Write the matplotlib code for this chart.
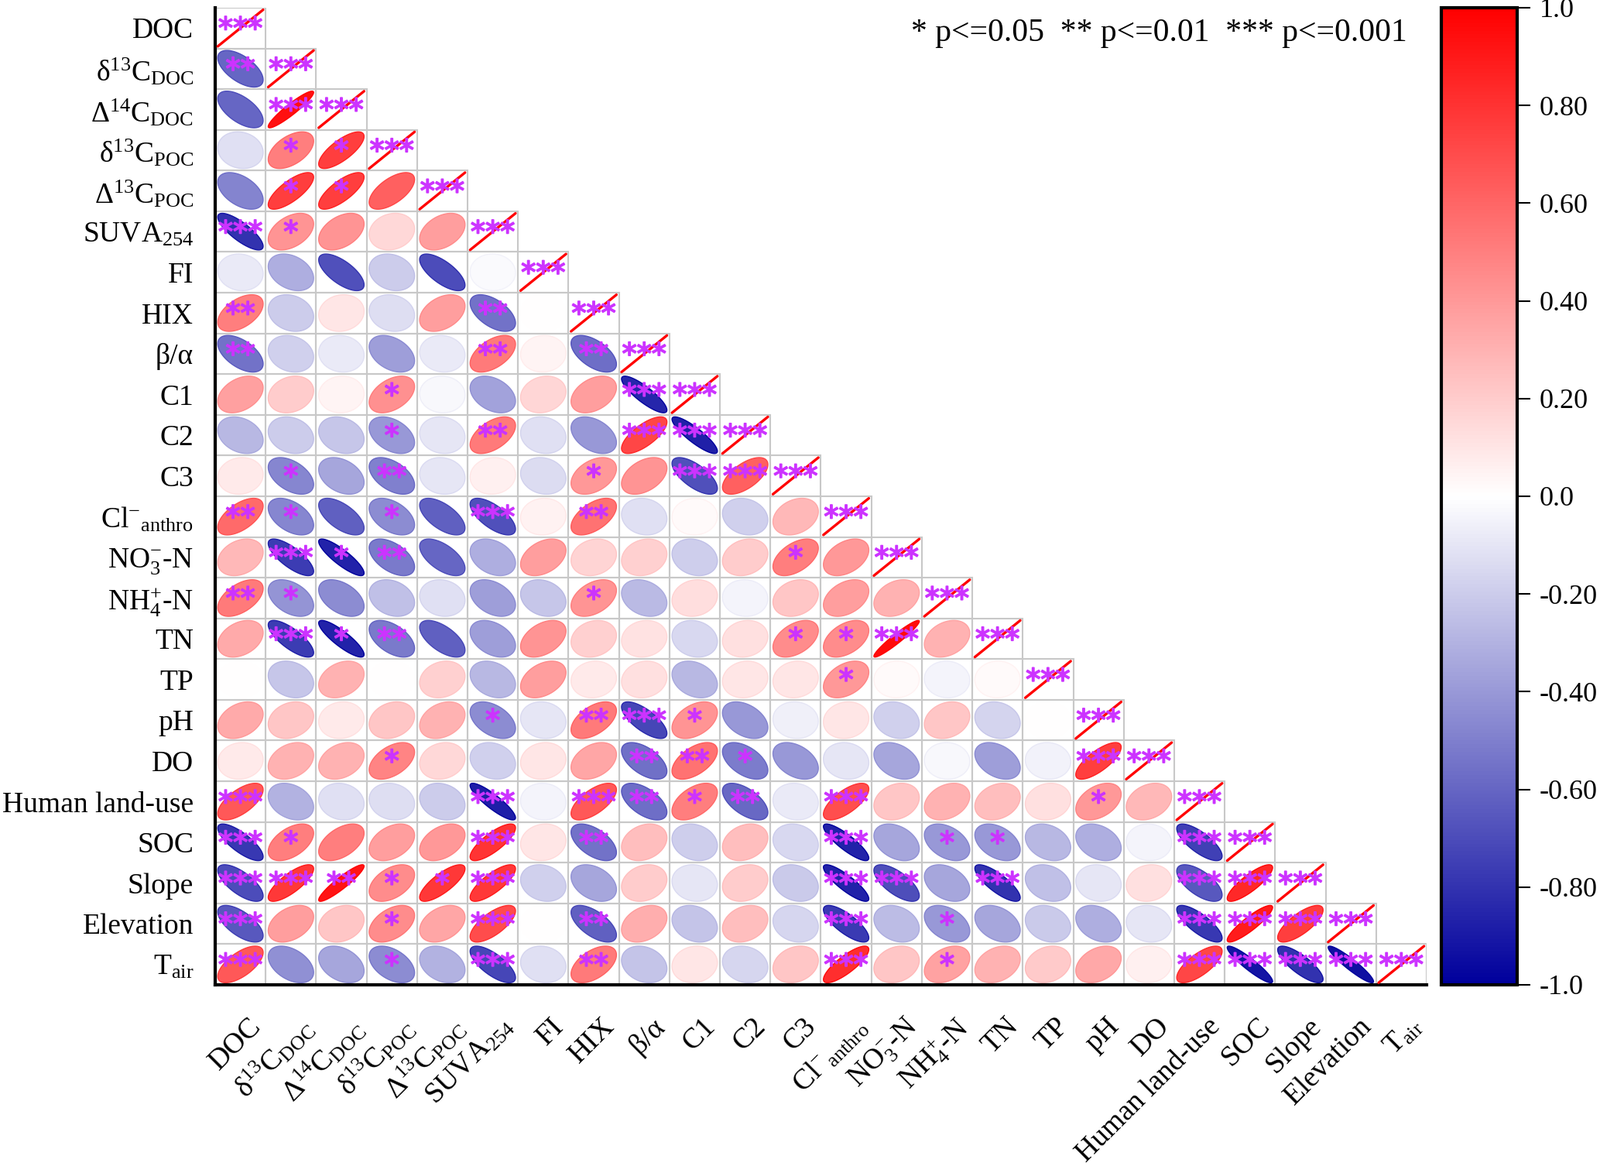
import numpy as np
import matplotlib
matplotlib.use('Agg')
import matplotlib.pyplot as plt
from matplotlib.patches import Polygon, Rectangle
from matplotlib.colors import LinearSegmentedColormap, Normalize
import matplotlib.colorbar as mcolorbar
import matplotlib.transforms as mtransforms
import matplotlib.patheffects as pe

plt.rcParams['font.family'] = ['Liberation Serif', 'DejaVu Serif']
plt.rcParams['mathtext.fontset'] = 'custom'
plt.rcParams['mathtext.rm'] = 'Liberation Serif'
plt.rcParams['mathtext.it'] = 'Liberation Serif:italic'
plt.rcParams['mathtext.bf'] = 'Liberation Serif:bold'

# ---------------- data ----------------
labels = ['DOC', 'δ$^{13}$C$_{\\mathrm{DOC}}$', 'Δ$^{14}$C$_{\\mathrm{DOC}}$',
          'δ$^{13}$C$_{\\mathrm{POC}}$', 'Δ$^{13}$C$_{\\mathrm{POC}}$', 'SUVA$_{254}$',
          'FI', 'HIX', 'β/α', 'C1', 'C2', 'C3', 'Cl$^{-}$$_{\\mathrm{anthro}}$',
          'NO$_{3}^{-}$-N', 'NH$_{4}^{+}$-N', 'TN', 'TP', 'pH', 'DO',
          'Human land-use', 'SOC', 'Slope', 'Elevation', 'T$_{\\mathrm{air}}$']

# lower-triangle correlation coefficients (row vs. previous columns)
r_d13c_doc = [-0.60]
r_d14c_doc = [-0.60, 0.93]
r_d13c_poc = [-0.12, 0.50, 0.75]
r_D13c_poc = [-0.48, 0.75, 0.75, 0.62]
r_suva = [-0.80, 0.42, 0.42, 0.15, 0.38]
r_fi = [-0.08, -0.32, -0.68, -0.20, -0.70, -0.02]
r_hix = [0.50, -0.20, 0.10, -0.13, 0.38, -0.55, 0.00]
r_ba = [-0.55, -0.18, -0.08, -0.38, -0.08, 0.52, 0.04, -0.57]
r_c1 = [0.37, 0.20, 0.04, 0.43, -0.03, -0.36, 0.16, 0.38, -0.85]
r_c2 = [-0.28, -0.20, -0.22, -0.40, -0.10, 0.52, -0.12, -0.40, 0.72, -0.87]
r_c3 = [0.08, -0.47, -0.35, -0.50, -0.10, 0.06, -0.14, 0.40, 0.42, -0.68, 0.62]
r_cl = [0.58, -0.47, -0.62, -0.45, -0.62, -0.68, 0.05, 0.55, -0.12, 0.02, -0.18, 0.28]
r_no3 = [0.28, -0.76, -0.86, -0.52, -0.60, -0.32, 0.38, 0.17, 0.18, -0.19, 0.20, 0.50, 0.40]
r_nh4 = [0.52, -0.42, -0.45, -0.25, -0.12, -0.38, -0.22, 0.42, -0.27, 0.13, -0.04, 0.22, 0.38, 0.30]
r_tn = [0.33, -0.76, -0.86, -0.52, -0.62, -0.38, 0.42, 0.18, 0.11, -0.15, 0.12, 0.45, 0.45, 0.95, 0.30]
r_tp = [0.00, -0.22, 0.30, 0.00, 0.18, -0.28, 0.38, 0.08, 0.12, -0.28, 0.10, 0.10, 0.40, 0.02, -0.04, 0.02]
r_ph = [0.33, 0.22, 0.08, 0.22, 0.30, -0.45, -0.10, 0.52, -0.72, 0.42, -0.40, -0.06, 0.10, -0.18, 0.22,
        -0.17, 0.00]
r_do = [0.08, 0.30, 0.30, 0.48, 0.15, -0.18, 0.10, 0.35, -0.56, 0.55, -0.51, -0.40, -0.10, -0.35, -0.03,
        -0.38, -0.05, 0.75]
r_hlu = [0.65, -0.30, -0.12, -0.13, -0.20, -0.88, -0.04, 0.65, -0.57, 0.50, -0.59, -0.08, 0.69, 0.22, 0.30,
         0.25, 0.12, 0.40, 0.28]
r_soc = [-0.78, 0.50, 0.50, 0.38, 0.40, 0.79, 0.10, -0.55, 0.25, -0.19, 0.25, -0.15, -0.86, -0.35, -0.40,
         -0.40, -0.28, -0.32, -0.04, -0.75]
r_slope = [-0.70, 0.78, 0.92, 0.45, 0.78, 0.78, -0.18, -0.35, 0.20, -0.10, 0.20, -0.21, -0.86, -0.69, -0.35,
           -0.80, -0.25, -0.10, 0.12, -0.65, 0.84]
r_elev = [-0.65, 0.38, 0.22, 0.45, 0.35, 0.70, 0.00, -0.62, 0.32, -0.23, 0.25, -0.16, -0.77, -0.26, -0.40,
          -0.35, -0.21, -0.32, -0.10, -0.78, 0.89, 0.75]
r_tair = [0.65, -0.43, -0.35, -0.45, -0.30, -0.72, -0.12, 0.52, -0.23, 0.10, -0.16, 0.22, 0.82, 0.22, 0.36,
          0.30, 0.21, 0.34, 0.06, 0.72, -0.92, -0.80, -0.93]

# number of significance stars for each lower-triangle cell
s_d13c_doc = [2]
s_d14c_doc = [0, 3]
s_d13c_poc = [0, 1, 1]
s_D13c_poc = [0, 1, 1, 0]
s_suva = [3, 1, 0, 0, 0]
s_fi = [0, 0, 0, 0, 0, 0]
s_hix = [2, 0, 0, 0, 0, 2, 0]
s_ba = [2, 0, 0, 0, 0, 2, 0, 2]
s_c1 = [0, 0, 0, 1, 0, 0, 0, 0, 3]
s_c2 = [0, 0, 0, 1, 0, 2, 0, 0, 3, 3]
s_c3 = [0, 1, 0, 2, 0, 0, 0, 1, 0, 3, 3]
s_cl = [2, 1, 0, 1, 0, 3, 0, 2, 0, 0, 0, 0]
s_no3 = [0, 3, 1, 2, 0, 0, 0, 0, 0, 0, 0, 1, 0]
s_nh4 = [2, 1, 0, 0, 0, 0, 0, 1, 0, 0, 0, 0, 0, 0]
s_tn = [0, 3, 1, 2, 0, 0, 0, 0, 0, 0, 0, 1, 1, 3, 0]
s_tp = [0, 0, 0, 0, 0, 0, 0, 0, 0, 0, 0, 0, 1, 0, 0, 0]
s_ph = [0, 0, 0, 0, 0, 1, 0, 2, 3, 1, 0, 0, 0, 0, 0, 0, 0]
s_do = [0, 0, 0, 1, 0, 0, 0, 0, 2, 2, 1, 0, 0, 0, 0, 0, 0, 3]
s_hlu = [3, 0, 0, 0, 0, 3, 0, 3, 2, 1, 2, 0, 3, 0, 0, 0, 0, 1, 0]
s_soc = [3, 1, 0, 0, 0, 3, 0, 2, 0, 0, 0, 0, 3, 0, 1, 1, 0, 0, 0, 3]
s_slope = [3, 3, 2, 1, 1, 3, 0, 0, 0, 0, 0, 0, 3, 3, 0, 3, 0, 0, 0, 3, 3]
s_elev = [3, 0, 0, 1, 0, 3, 0, 2, 0, 0, 0, 0, 3, 0, 1, 0, 0, 0, 0, 3, 3, 3]
s_tair = [3, 0, 0, 1, 0, 3, 0, 2, 0, 0, 0, 0, 3, 0, 1, 0, 0, 0, 0, 3, 3, 3, 3]

r_rows = [[], r_d13c_doc, r_d14c_doc, r_d13c_poc, r_D13c_poc, r_suva, r_fi, r_hix, r_ba, r_c1, r_c2, r_c3,
          r_cl, r_no3, r_nh4, r_tn, r_tp, r_ph, r_do, r_hlu, r_soc, r_slope, r_elev, r_tair]
s_rows = [[], s_d13c_doc, s_d14c_doc, s_d13c_poc, s_D13c_poc, s_suva, s_fi, s_hix, s_ba, s_c1, s_c2, s_c3,
          s_cl, s_no3, s_nh4, s_tn, s_tp, s_ph, s_do, s_hlu, s_soc, s_slope, s_elev, s_tair]

cbar_ticks = [-1.0, -0.8, -0.6, -0.4, -0.2, 0.0, 0.2, 0.4, 0.6, 0.8, 1.0]
cbar_labels = ['-1.0', '-0.80', '-0.60', '-0.40', '-0.20', '0.0', '0.20', '0.40', '0.60', '0.80', '1.0']
legend_text = '* p<=0.05  ** p<=0.01  *** p<=0.001'

n = len(labels)
M = np.full((n, n), np.nan)
S = np.zeros((n, n), dtype=int)
for i in range(n):
    for j, v in enumerate(r_rows[i]):
        M[i, j] = v
        S[i, j] = s_rows[i][j]
    M[i, i] = 1.0
    S[i, i] = 3

# ---------------- figure ----------------
cmap = LinearSegmentedColormap.from_list('bwr_c', [(0.0, '#00009C'), (0.5, '#FFFFFF'), (1.0, '#FF0000')], N=256)
norm = Normalize(-1, 1)

fig = plt.figure(figsize=(20.67, 15.06), dpi=100)
ax = fig.add_axes([0.1345, 0.1554, 0.7571, 0.838])
ax.set_xlim(0, n)
ax.set_ylim(n, 0)

t = np.linspace(0, 2 * np.pi, 240)
s = 0.45
star_color = '#CC33FF'
star_fx = [pe.Stroke(linewidth=1.3, foreground=star_color), pe.Normal()]
for i in range(n):
    for j in range(i + 1):
        ax.add_patch(Rectangle((j, i), 1, 1, fill=False, ec='#C8C8C8', lw=1.5, zorder=1))
        r = M[i, j]
        d = np.arccos(np.clip(r, -1, 1))
        xs = j + 0.5 + s * np.cos(t + d / 2)
        ys = i + 0.5 - s * np.cos(t - d / 2)
        fc = cmap(norm(r))
        if i == j:
            ax.plot([j + 0.5 - s, j + 0.5 + s], [i + 0.5 + s, i + 0.5 - s], color='#FF0000', lw=2.4,
                    solid_capstyle='round', zorder=3)
        else:
            strong = np.sign(r) * min(1.0, abs(r) * 1.12 + 0.03)
            ec = cmap(norm(strong))
            ax.add_patch(Polygon(np.column_stack([xs, ys]), closed=True, fc=fc, ec=ec, lw=1.0, zorder=2))
        if S[i, j] > 0:
            ax.text(j + 0.5, i + 0.75, '*' * S[i, j], ha='center', va='baseline', fontsize=27.5,
                    family='DejaVu Sans', color=star_color, zorder=4, path_effects=star_fx)

ax.set_xticks(np.arange(n) + 0.5)
ax.set_yticks(np.arange(n) + 0.5)
ax.set_xticklabels(labels, rotation=45, ha='right', va='top', rotation_mode='anchor', fontsize=27)
ax.set_yticklabels(labels, fontsize=27)
ax.tick_params(axis='x', length=0, pad=26)
ax.tick_params(axis='y', length=0, pad=20)
shift = mtransforms.ScaledTranslation(9 / 100, 0, fig.dpi_scale_trans)
for lab in ax.get_xticklabels():
    lab.set_transform(lab.get_transform() + shift)
for side in ['top', 'right']:
    ax.spines[side].set_visible(False)
for side in ['left', 'bottom']:
    ax.spines[side].set_linewidth(3)
    ax.spines[side].set_color('black')

fig.text(0.5695, 0.9648, legend_text, ha='left', va='baseline', fontsize=30)

cax = fig.add_axes([0.9008, 0.1554, 0.0474, 0.838])
cb = mcolorbar.ColorbarBase(cax, cmap=cmap, norm=norm, orientation='vertical', ticks=cbar_ticks)
cb.set_ticklabels(cbar_labels)
cb.outline.set_linewidth(3)
cax.tick_params(length=12, width=1.5, pad=9, labelsize=26, direction='out')

fig.savefig('out.png', dpi=100)
